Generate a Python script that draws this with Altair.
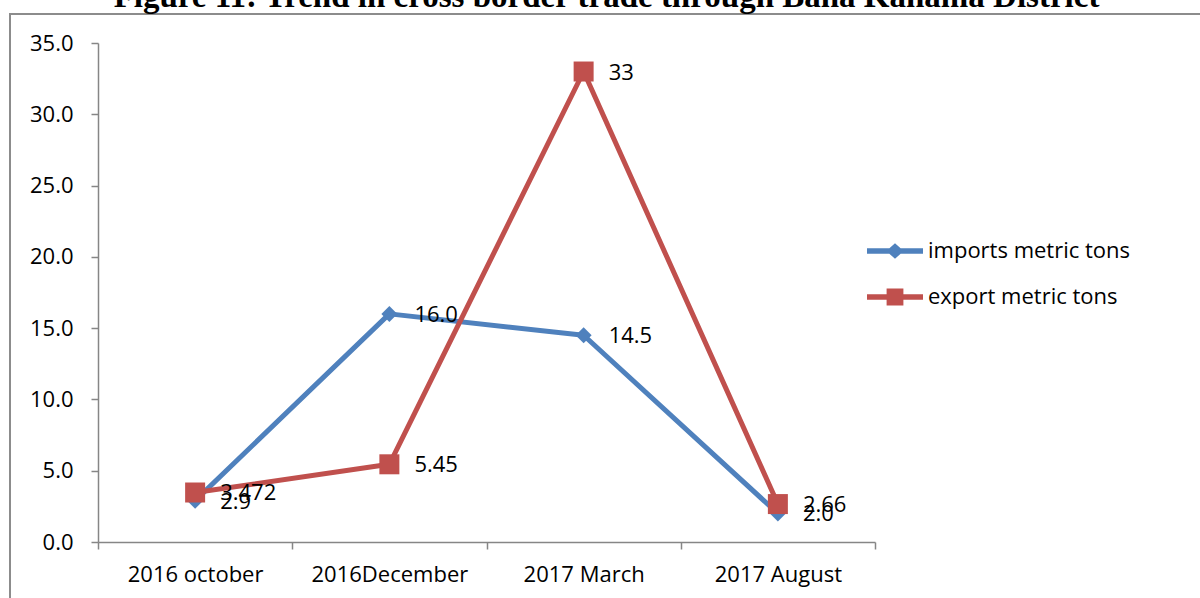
import altair as alt
import pandas as pd

# Survey periods and the two trade series (metric tons)
periods = ["2016 october", "2016December", "2017 March", "2017 August"]
imports_tons = [2.9, 16.0, 14.5, 2.0]
export_tons = [3.472, 5.45, 33, 2.66]
imports_text = ["2.9", "16.0", "14.5", "2.0"]
export_text = ["3.472", "5.45", "33", "2.66"]
series_names = ["imports metric tons", "export metric tons"]
series_colors = ["#4F81BD", "#C0504D"]
y_ticks = [0, 5, 10, 15, 20, 25, 30, 35]

rows = []
for name, vals, texts in zip(series_names, [imports_tons, export_tons], [imports_text, export_text]):
    for p, v, t in zip(periods, vals, texts):
        rows.append({"period": p, "series": name, "tons": v, "text": t})
df = pd.DataFrame(rows)

FONT = "Open Sans"
AXIS_GREY = "#868686"

x_enc = alt.X(
    "period:N",
    sort=periods,
    scale=alt.Scale(type="band", paddingInner=0, paddingOuter=0),
    axis=alt.Axis(
        title=None, labelAngle=0, labelFont=FONT, labelFontSize=22, labelColor="#000",
        domainColor=AXIS_GREY, domainWidth=1.5, tickColor=AXIS_GREY, tickWidth=1.5,
        tickSize=7, tickBand="extent", labelPadding=15, grid=False,
    ),
)
y_enc = alt.Y(
    "tons:Q",
    scale=alt.Scale(domain=[0, 35], nice=False, zero=True),
    axis=alt.Axis(
        title=None, values=y_ticks, format=".1f", labelFont=FONT, labelFontSize=22,
        labelColor="#000", domainColor=AXIS_GREY, domainWidth=1.5, tickColor=AXIS_GREY,
        tickWidth=1.5, tickSize=7, labelPadding=18, grid=False,
    ),
)

base = alt.Chart(df).encode(x=x_enc, y=y_enc)

def series_layers(name, color, shape, size):
    sub = base.transform_filter(alt.datum.series == name)
    line = sub.mark_line(strokeWidth=5, color=color, strokeJoin="round")
    pts = sub.mark_point(shape=shape, size=size, filled=True, opacity=1, color=color)
    return [line, pts]

imp_layers = series_layers(series_names[0], series_colors[0], "diamond", 256)
exp_layers = series_layers(series_names[1], series_colors[1], "square", 400)

labels = base.mark_text(
    align="left", baseline="middle", dx=25, dy=1, font=FONT, fontSize=22, color="#000"
).encode(text="text:N")

# Legend symbols: a short thick line with the series marker on it
diamond_key = "M-1,-0.1H1V0.1H-1Z M0,-0.28L0.31,0L0,0.28L-0.31,0Z"
square_key = "M-1,-0.1H1V0.1H-1Z M-0.3,-0.3H0.3V0.3H-0.3Z"
legend_cfg = alt.Legend(
    title=None, orient="none", legendX=769, legendY=180,
    labelFont=FONT, labelFontSize=22, labelColor="#000", labelOffset=5, labelLimit=0,
    symbolSize=3136, symbolStrokeWidth=0, symbolOpacity=1, rowPadding=7,
)
legend_layer = base.mark_point(filled=True, opacity=0).encode(
    color=alt.Color("series:N", scale=alt.Scale(domain=series_names, range=series_colors), legend=legend_cfg),
    shape=alt.Shape("series:N", scale=alt.Scale(domain=series_names, range=[diamond_key, square_key]), legend=legend_cfg),
)

# Outer chart border
frame = alt.Chart(pd.DataFrame({"k": [0]})).mark_rect(
    fillOpacity=0, stroke="#8c8c8c", strokeWidth=2
).encode(x=alt.value(-88), x2=alt.value(1400), y=alt.value(-29), y2=alt.value(800))

chart = alt.layer(
    frame, *imp_layers, *exp_layers, labels, legend_layer
).properties(
    width=777,
    height=499,
    autosize=alt.AutoSizeParams(type="none"),
    padding={"left": 98, "top": 43, "right": 325, "bottom": 56},
    title=alt.TitleParams(
        text="Figure 11: Trend in cross border trade through Bana Kanama District",
        font="Liberation Serif", fontSize=33, fontWeight="bold", color="#000",
        anchor="middle", frame="group", offset=0, dx=120, dy=27, baseline="alphabetic",
    ),
).configure(background="white", view=alt.ViewConfig(stroke=None))

chart.save("out.html", embed_options={"renderer": "svg", "actions": False})
